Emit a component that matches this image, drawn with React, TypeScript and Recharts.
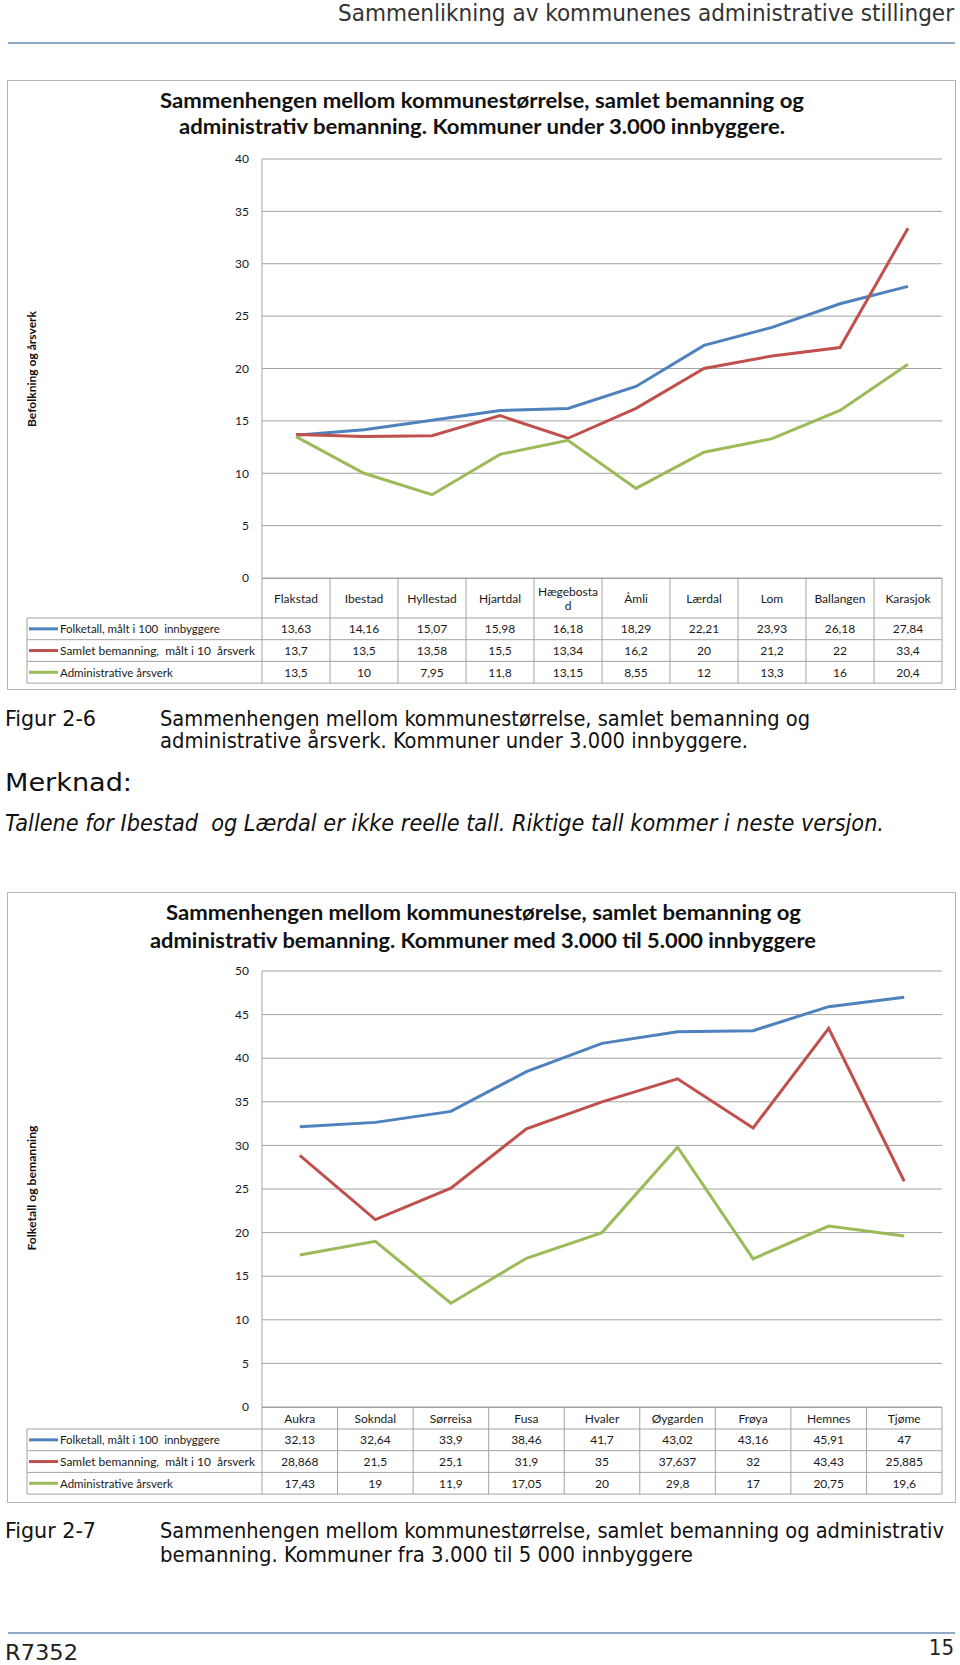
import React from 'react';
import { LineChart, Line, XAxis, YAxis, CartesianGrid } from 'recharts';

// Kommuner under 3.000 innbyggere
const kommunerSmall = ['Flakstad', 'Ibestad', 'Hyllestad', 'Hjartdal', 'Hægebostad', 'Åmli', 'Lærdal', 'Lom', 'Ballangen', 'Karasjok'];
const folketallSmall = [13.63, 14.16, 15.07, 15.98, 16.18, 18.29, 22.21, 23.93, 26.18, 27.84];
const samletSmall = [13.7, 13.5, 13.58, 15.5, 13.34, 16.2, 20, 21.2, 22, 33.4];
const adminSmall = [13.5, 10, 7.95, 11.8, 13.15, 8.55, 12, 13.3, 16, 20.4];
const ticksSmall = [0, 5, 10, 15, 20, 25, 30, 35, 40];

// Kommuner med 3.000 til 5.000 innbyggere
const kommunerMid = ['Aukra', 'Sokndal', 'Sørreisa', 'Fusa', 'Hvaler', 'Øygarden', 'Frøya', 'Hemnes', 'Tjøme'];
const folketallMid = [32.13, 32.64, 33.9, 38.46, 41.7, 43.02, 43.16, 45.91, 47];
const samletMid = [28.868, 21.5, 25.1, 31.9, 35, 37.637, 32, 43.43, 25.885];
const adminMid = [17.43, 19, 11.9, 17.05, 20, 29.8, 17, 20.75, 19.6];
const ticksMid = [0, 5, 10, 15, 20, 25, 30, 35, 40, 45, 50];

const seriesKeys = ['folketall', 'samlet', 'admin'];
const seriesNames = ['Folketall, målt i 100  innbyggere', 'Samlet bemanning,  målt i 10  årsverk', 'Administrative årsverk'];
const seriesColors = ['#4f81bd', '#c0504d', '#9bbb59'];

const PLOT_LEFT = 262;
const PLOT_RIGHT = 942;
const TABLE_LEFT = 27;
const ROW_H = 21.7;
const CHART_FONT = "Lato, 'Open Sans', sans-serif";
const PAGE_FONT = "'DejaVu Sans Condensed', 'DejaVu Sans', sans-serif";
const GRID = '#a3a3a3';

const fmt = (v: number) => String(v).replace('.', ',');

type ChartProps = {
  top: number;
  height: number;
  plotTop: number;
  plotBottom: number;
  categories: string[];
  values: number[][];
  ticks: number[];
};

const KommuneChart: React.FC<ChartProps> = ({ top, height, plotTop, plotBottom, categories, values, ticks }) => {
  const data = categories.map((name, i) => ({
    name,
    folketall: values[0][i],
    samlet: values[1][i],
    admin: values[2][i],
  }));
  const band = (PLOT_RIGHT - PLOT_LEFT) / categories.length;
  return (
    <div style={{ position: 'absolute', left: 0, top }}>
      <LineChart
        width={960}
        height={height}
        data={data}
        margin={{ top: plotTop - top, right: 960 - PLOT_RIGHT, bottom: top + height - plotBottom, left: PLOT_LEFT - 40 }}
      >
        <CartesianGrid vertical={false} stroke={GRID} />
        <XAxis dataKey="name" hide padding={{ left: band / 2, right: band / 2 }} />
        <YAxis
          width={40}
          domain={[0, ticks[ticks.length - 1]]}
          ticks={ticks}
          interval={0}
          tickLine={false}
          axisLine={{ stroke: GRID }}
          tickSize={9}
          tickMargin={4}
          tick={{ fontSize: 12, fill: '#1a1a1a', fontFamily: CHART_FONT }}
        />
        {seriesKeys.map((k, i) => (
          <Line
            key={k}
            type="linear"
            dataKey={k}
            stroke={seriesColors[i]}
            strokeWidth={3}
            dot={false}
            isAnimationActive={false}
          />
        ))}
      </LineChart>
    </div>
  );
};

type TableProps = {
  top: number;
  headerH: number;
  categories: string[];
  values: number[][];
};

// Excel-style data table under the plot, columns lined up with the categories
const DataTable: React.FC<TableProps> = ({ top, headerH, categories, values }) => {
  const band = (PLOT_RIGHT - PLOT_LEFT) / categories.length;
  const h = headerH + ROW_H * 3;
  return (
    <svg width={960} height={h + 2} style={{ position: 'absolute', left: 0, top }}>
      <g stroke={GRID} strokeWidth={1}>
        <line x1={PLOT_LEFT} x2={PLOT_RIGHT} y1={0.5} y2={0.5} />
        {categories.map((_, i) => (
          <line key={i} x1={PLOT_LEFT + i * band} x2={PLOT_LEFT + i * band} y1={0} y2={h} />
        ))}
        <line x1={PLOT_RIGHT} x2={PLOT_RIGHT} y1={0} y2={h} />
        <line x1={TABLE_LEFT} x2={TABLE_LEFT} y1={headerH} y2={h} />
        {[0, 1, 2, 3].map((r) => (
          <line key={r} x1={TABLE_LEFT} x2={PLOT_RIGHT} y1={headerH + r * ROW_H} y2={headerH + r * ROW_H} />
        ))}
      </g>
      <g fontFamily={CHART_FONT} fontSize={12} fill="#1a1a1a" textAnchor="middle">
        {categories.map((c, i) => {
          const cx = PLOT_LEFT + (i + 0.5) * band;
          if (c.length > 9) {
            return (
              <text key={c} x={cx} y={headerH / 2} dominantBaseline="central">
                <tspan x={cx} dy={-7}>{c.slice(0, 9)}</tspan>
                <tspan x={cx} dy={14}>{c.slice(9)}</tspan>
              </text>
            );
          }
          return (
            <text key={c} x={cx} y={headerH / 2} dominantBaseline="central">{c}</text>
          );
        })}
        {values.map((row, r) =>
          row.map((v, i) => (
            <text
              key={r + '-' + i}
              x={PLOT_LEFT + (i + 0.5) * band}
              y={headerH + (r + 0.5) * ROW_H}
              dominantBaseline="central"
            >
              {fmt(v)}
            </text>
          ))
        )}
      </g>
      {seriesNames.map((n, r) => {
        const cy = headerH + (r + 0.5) * ROW_H;
        return (
          <g key={n}>
            <line x1={TABLE_LEFT + 2} x2={TABLE_LEFT + 31} y1={cy} y2={cy} stroke={seriesColors[r]} strokeWidth={3} />
            <text
              x={TABLE_LEFT + 33}
              y={cy}
              dominantBaseline="central"
              fontFamily={CHART_FONT}
              fontSize={11.5}
              fill="#1a1a1a"
              textLength={r === 1 ? 195 : undefined}
              lengthAdjust="spacingAndGlyphs"
              style={{ whiteSpace: 'pre' }}
            >
              {n}
            </text>
          </g>
        );
      })}
    </svg>
  );
};

const condensed = { fontStretch: 'condensed' as const };

const Page: React.FC = () => (
  <svg width={960} height={1665} style={{ position: 'absolute', left: 0, top: 0 }}>
    {/* page header */}
    <text x={338} y={21} fontFamily={PAGE_FONT} fontSize={23} fill="#333" style={condensed} textLength={616} lengthAdjust="spacingAndGlyphs">
      Sammenlikning av kommunenes administrative stillinger
    </text>
    <line x1={8} x2={955} y1={43} y2={43} stroke="#6a8db3" strokeWidth={1.5} />

    {/* chart frames */}
    <rect x={7.5} y={80.5} width={948} height={609} fill="none" stroke="#b5b5b5" />
    <rect x={7.5} y={892.5} width={948} height={610} fill="none" stroke="#b5b5b5" />

    {/* chart titles */}
    <g fontFamily={CHART_FONT} fontWeight="bold" fontSize={20.5} fill="#111">
      <text x={160} y={108} textLength={644} lengthAdjust="spacingAndGlyphs">
        Sammenhengen mellom kommunestørrelse, samlet bemanning og
      </text>
      <text x={179} y={134} textLength={606} lengthAdjust="spacingAndGlyphs">
        administrativ bemanning. Kommuner under 3.000 innbyggere.
      </text>
      <text x={166} y={920} textLength={635} lengthAdjust="spacingAndGlyphs">
        Sammenhengen mellom kommunestørelse, samlet bemanning og
      </text>
      <text x={150} y={948} textLength={666} lengthAdjust="spacingAndGlyphs">
        administrativ bemanning. Kommuner med 3.000 til 5.000 innbyggere
      </text>
    </g>

    {/* axis titles */}
    <g fontFamily={CHART_FONT} fontWeight="bold" fontSize={11} fill="#111" textAnchor="middle">
      <text transform="translate(36,369) rotate(-90)" textLength={116} lengthAdjust="spacingAndGlyphs">
        Befolkning og årsverk
      </text>
      <text transform="translate(36,1188) rotate(-90)" textLength={125} lengthAdjust="spacingAndGlyphs">
        Folketall og bemanning
      </text>
    </g>

    {/* figure captions */}
    <g fontFamily={PAGE_FONT} fontSize={21.5} fill="#111" style={condensed}>
      <text x={5} y={726} textLength={91} lengthAdjust="spacingAndGlyphs">Figur 2-6</text>
      <text x={160} y={726} textLength={650} lengthAdjust="spacingAndGlyphs">
        Sammenhengen mellom kommunestørrelse, samlet bemanning og
      </text>
      <text x={160} y={748} textLength={588} lengthAdjust="spacingAndGlyphs">
        administrative årsverk. Kommuner under 3.000 innbyggere.
      </text>
      <text x={5} y={791} fontSize={24} textLength={127} lengthAdjust="spacingAndGlyphs">Merknad:</text>
      <text x={5} y={831} fontStyle="italic" fontSize={22.5} textLength={879} lengthAdjust="spacingAndGlyphs" style={{ whiteSpace: 'pre' }}>
        Tallene for Ibestad  og Lærdal er ikke reelle tall. Riktige tall kommer i neste versjon.
      </text>
      <text x={5} y={1538} textLength={91} lengthAdjust="spacingAndGlyphs">Figur 2-7</text>
      <text x={160} y={1538} textLength={784} lengthAdjust="spacingAndGlyphs">
        Sammenhengen mellom kommunestørrelse, samlet bemanning og administrativ
      </text>
      <text x={160} y={1562} textLength={533} lengthAdjust="spacingAndGlyphs">
        bemanning. Kommuner fra 3.000 til 5 000 innbyggere
      </text>
    </g>

    {/* page footer */}
    <line x1={8} x2={955} y1={1633} y2={1633} stroke="#6a8db3" strokeWidth={1.5} />
    <text x={5} y={1660} fontFamily={PAGE_FONT} fontSize={22} fill="#222" style={condensed} textLength={73} lengthAdjust="spacingAndGlyphs">R7352</text>
    <text x={954} y={1655} fontFamily={PAGE_FONT} fontSize={22} fill="#222" style={condensed} textAnchor="end">15</text>
  </svg>
);

export default function App() {
  return (
    <div style={{ position: 'absolute', left: 0, top: 0, width: 960, height: 1665, background: '#fff', overflow: 'hidden' }}>
      <Page />
      <KommuneChart
        top={150}
        height={440}
        plotTop={159}
        plotBottom={578}
        categories={kommunerSmall}
        values={[folketallSmall, samletSmall, adminSmall]}
        ticks={ticksSmall}
      />
      <DataTable top={578} headerH={40} categories={kommunerSmall} values={[folketallSmall, samletSmall, adminSmall]} />
      <KommuneChart
        top={960}
        height={460}
        plotTop={971}
        plotBottom={1407}
        categories={kommunerMid}
        values={[folketallMid, samletMid, adminMid]}
        ticks={ticksMid}
      />
      <DataTable top={1407} headerH={22} categories={kommunerMid} values={[folketallMid, samletMid, adminMid]} />
    </div>
  );
}
